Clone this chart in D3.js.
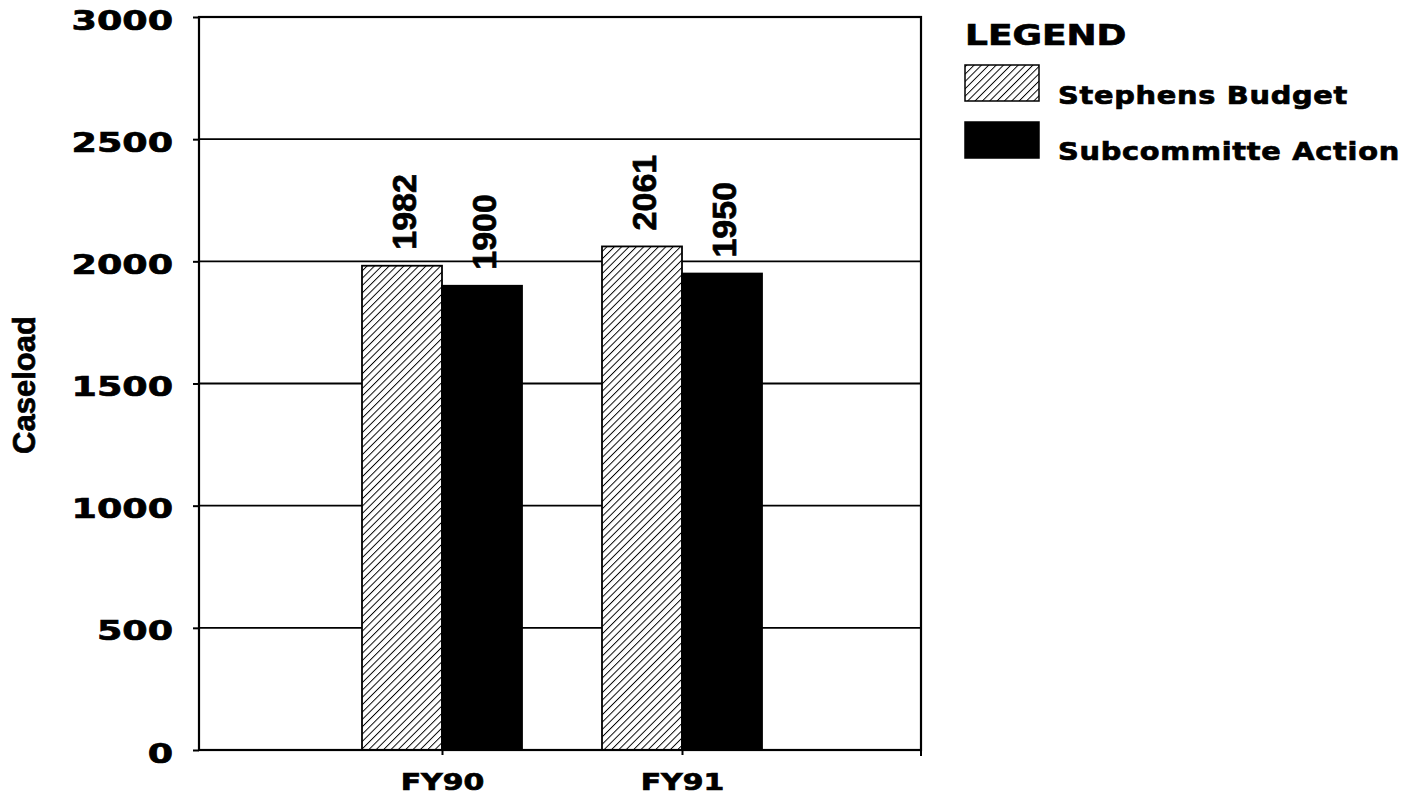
<!DOCTYPE html>
<html>
<head>
<meta charset="utf-8">
<script src="https://cdn.jsdelivr.net/npm/d3@7/dist/d3.min.js"></script>
<style>
  html, body { margin: 0; padding: 0; background: #fff; }
  svg { display: block; }
  text { fill: #000; stroke: #000; stroke-width: 0.7px; }
</style>
</head>
<body>
<svg id="chart" width="1414" height="803"></svg>
<script>
// Caseload by fiscal year: budget proposal vs. subcommittee action
const categories = ["FY90", "FY91"];
const seriesNames = ["Stephens Budget", "Subcommitte Action"];
const stephensBudget = [1982, 2061];
const subcommitteeAction = [1900, 1950];
const yTicks = [0, 500, 1000, 1500, 2000, 2500, 3000];

const svg = d3.select("#chart");
const plotLeft = 199, plotRight = 921, plotTop = 17, plotBottom = 750;

const y = d3.scaleLinear().domain([0, 3000]).range([plotBottom, plotTop]);
// categories sit at positions 1..n on a 0..n+1 axis
const x = d3.scaleLinear().domain([0, categories.length + 1]).range([plotLeft + 3, plotRight + 1]);
const step = x(1) - x(0);
const barW = step / 3;

const wideFont = "'DejaVu Sans', sans-serif";
const plainFont = "'Liberation Sans', Arial, sans-serif";

// hatch pattern for the budget series
const defs = svg.append("defs");
defs.append("pattern")
  .attr("id", "hatch")
  .attr("patternUnits", "userSpaceOnUse")
  .attr("width", 5.2).attr("height", 5.2)
  .attr("patternTransform", "rotate(45)")
  .append("line")
  .attr("x1", 0).attr("y1", 0).attr("x2", 0).attr("y2", 5.2)
  .attr("stroke", "#000").attr("stroke-width", 1.9);

// gridlines
svg.append("g").selectAll("line")
  .data(yTicks.filter(t => t > 0 && t < 3000))
  .join("line")
  .attr("x1", plotLeft).attr("x2", plotRight)
  .attr("y1", d => y(d)).attr("y2", d => y(d))
  .attr("stroke", "#000").attr("stroke-width", 1.8);

// bars
const fills = ["url(#hatch)", "#000"];
const series = [stephensBudget, subcommitteeAction];
series.forEach((vals, si) => {
  const g = svg.append("g");
  g.selectAll("rect.bg")
    .data(vals)
    .join("rect")
    .attr("class", "bg")
    .attr("x", (d, i) => x(i + 1) - barW + si * barW)
    .attr("y", d => y(d))
    .attr("width", barW)
    .attr("height", d => y(0) - y(d))
    .attr("fill", si === 0 ? "#fff" : "#000");
  g.selectAll("rect.f")
    .data(vals)
    .join("rect")
    .attr("class", "f")
    .attr("x", (d, i) => x(i + 1) - barW + si * barW)
    .attr("y", d => y(d))
    .attr("width", barW)
    .attr("height", d => y(0) - y(d))
    .attr("fill", fills[si])
    .attr("stroke", "#000").attr("stroke-width", 1.8);
  // value labels, rotated
  g.selectAll("text")
    .data(vals)
    .join("text")
    .attr("transform", (d, i) => {
      const cx = x(i + 1) - barW / 2 + si * barW + 2;
      return `translate(${cx},${y(d) - 16}) rotate(-90)`;
    })
    .attr("dy", "0.36em")
    .attr("font-family", plainFont)
    .attr("font-weight", "bold")
    .attr("font-size", 34)
    .text(d => d);
});

// frame
svg.append("rect")
  .attr("x", plotLeft).attr("y", plotTop)
  .attr("width", plotRight - plotLeft).attr("height", plotBottom - plotTop)
  .attr("fill", "none").attr("stroke", "#000").attr("stroke-width", 2.2);

// y axis ticks and labels
const yAxis = d3.axisLeft(y).tickValues(yTicks).tickSize(6).tickPadding(20).tickFormat(d3.format("d"));
const ya = svg.append("g").attr("transform", `translate(${plotLeft},0)`).call(yAxis);
ya.select(".domain").remove();
ya.selectAll(".tick line").attr("stroke", "#000").attr("stroke-width", 2);
ya.selectAll(".tick text")
  .attr("font-family", wideFont)
  .attr("font-weight", "bold")
  .attr("font-size", 27)
  .attr("dy", "0.45em")
  .attr("x", 0)
  .attr("text-anchor", "end")
  .attr("transform", "translate(-26,0) scale(1.35,1)");

// x axis ticks and labels
const xAxis = d3.axisBottom(x)
  .tickValues(categories.map((c, i) => i + 1))
  .tickSize(5).tickPadding(16)
  .tickFormat(d => categories[d - 1]);
const xa = svg.append("g").attr("transform", `translate(0,${plotBottom})`).call(xAxis);
xa.select(".domain").remove();
xa.selectAll(".tick line").attr("stroke", "#000").attr("stroke-width", 2);
xa.selectAll(".tick text")
  .attr("font-family", wideFont)
  .attr("font-weight", "bold")
  .attr("font-size", 23)
  .attr("y", 0).attr("dy", 0)
  .attr("transform", "translate(0,40) scale(1.3,1)");

// small tick below the right frame edge
svg.append("line")
  .attr("x1", plotRight).attr("x2", plotRight)
  .attr("y1", plotBottom).attr("y2", plotBottom + 6)
  .attr("stroke", "#000").attr("stroke-width", 2);

// y axis title
svg.append("text")
  .attr("transform", `translate(35,${(313 + 457) / 2}) rotate(-90)`)
  .attr("text-anchor", "middle")
  .attr("font-family", plainFont)
  .attr("font-weight", "bold")
  .attr("font-size", 31)
  .text("Caseload");

// legend
const lg = svg.append("g").attr("transform", "translate(965,0)");
lg.append("text")
  .attr("transform", "translate(0,45) scale(1.24,1)")
  .attr("font-family", wideFont)
  .attr("font-weight", "bold")
  .attr("font-size", 29)
  .text("LEGEND");

const legendRows = [
  { name: seriesNames[0], fill: "url(#hatch)", sy: 65, ty: 104 },
  { name: seriesNames[1], fill: "#000", sy: 122, ty: 160 }
];
legendRows.forEach(r => {
  lg.append("rect")
    .attr("x", 0).attr("y", r.sy)
    .attr("width", 74).attr("height", 36)
    .attr("fill", "#fff");
  lg.append("rect")
    .attr("x", 0).attr("y", r.sy)
    .attr("width", 74).attr("height", 36)
    .attr("fill", r.fill)
    .attr("stroke", "#000").attr("stroke-width", 1.5);
  lg.append("text")
    .attr("transform", `translate(93,${r.ty}) scale(1.2,1)`)
    .attr("font-family", wideFont)
    .attr("font-weight", "bold")
    .attr("font-size", 24)
    .attr("letter-spacing", 0.6)
    .text(r.name);
});
</script>
</body>
</html>
